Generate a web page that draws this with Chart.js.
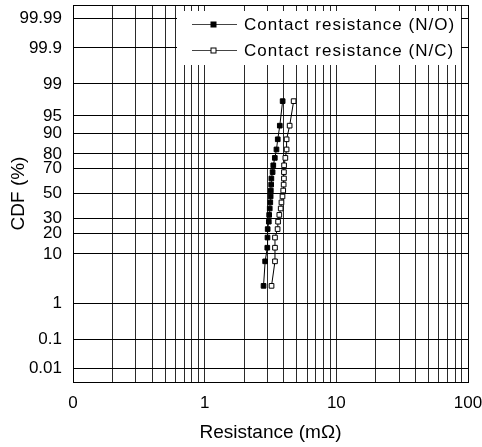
<!DOCTYPE html>
<html>
<head>
<meta charset="utf-8">
<script src="https://cdn.jsdelivr.net/npm/chart.js@4.4.1/dist/chart.umd.min.js"></script>
<style>
  html, body { margin: 0; padding: 0; background: #fff; }
  #wrap { width: 482px; height: 447px; }
</style>
</head>
<body>
<div id="wrap"><canvas id="chart" width="482" height="447"></canvas></div>
<script>
// plotting positions (CDF %) shared by both series, lowest first
const cdfPercent = [2.5, 7.5, 12.5, 17.5, 22.5, 27.5, 32.5, 37.5, 42.5, 47.5,
                    52.5, 57.5, 62.5, 67.5, 72.5, 77.5, 82.5, 87.5, 92.5, 97.5];
// resistance in mOhm
const resistanceNO = [2.80, 2.88, 2.99, 3.00, 3.01, 3.07, 3.09, 3.12, 3.15, 3.17,
                      3.18, 3.20, 3.21, 3.28, 3.32, 3.41, 3.51, 3.59, 3.72, 3.91];
const resistanceNC = [3.22, 3.42, 3.42, 3.42, 3.58, 3.61, 3.69, 3.78, 3.83, 3.90,
                      3.95, 3.98, 4.00, 4.00, 4.01, 4.10, 4.19, 4.19, 4.42, 4.74];
const seriesNames = ['Contact resistance (N/O)', 'Contact resistance (N/C)'];
const cdfTicks = [0.01, 0.1, 1, 10, 20, 30, 50, 70, 80, 90, 95, 99, 99.9, 99.99];
const xDecades = [0.1, 1, 10, 100];
const xTickLabels = ['0', '1', '10', '100'];

const FONT = '"Liberation Sans", Arial, sans-serif';

// inverse normal CDF (Acklam) - turns CDF into the probability-paper axis
function probit(p) {
    const a = [-3.969683028665376e+01, 2.209460984245205e+02, -2.759285104469687e+02, 1.383577518672690e+02, -3.066479806614716e+01, 2.506628277459239e+00];
    const b = [-5.447609879822406e+01, 1.615858368580409e+02, -1.556989798598866e+02, 6.680131188771972e+01, -1.328068155288572e+01];
    const c = [-7.784894002430293e-03, -3.223964580411365e-01, -2.400758277161838e+00, -2.549732539343734e+00, 4.374664141464968e+00, 2.938163982698783e+00];
    const d = [7.784695709041462e-03, 3.224671290700398e-01, 2.445134137142996e+00, 3.754408661907416e+00];
    const plow = 0.02425;
    let q, r;
    if (p < plow) {
        q = Math.sqrt(-2 * Math.log(p));
        return (((((c[0]*q+c[1])*q+c[2])*q+c[3])*q+c[4])*q+c[5]) / ((((d[0]*q+d[1])*q+d[2])*q+d[3])*q+1);
    }
    if (p > 1 - plow) {
        q = Math.sqrt(-2 * Math.log(1 - p));
        return -(((((c[0]*q+c[1])*q+c[2])*q+c[3])*q+c[4])*q+c[5]) / ((((d[0]*q+d[1])*q+d[2])*q+d[3])*q+1);
    }
    q = p - 0.5;
    r = q * q;
    return (((((a[0]*r+a[1])*r+a[2])*r+a[3])*r+a[4])*r+a[5])*q / (((((b[0]*r+b[1])*r+b[2])*r+b[3])*r+b[4])*r+1);
}

// 1..9 per decade for the vertical grid
const xGrid = [];
xDecades.forEach((dec, i) => {
    if (i === xDecades.length - 1) { xGrid.push(dec); return; }
    for (let k = 1; k <= 9; k++) xGrid.push(dec * k);
});

const toPoints = (xs) => xs.map((x, i) => ({ x: x, y: probit(cdfPercent[i] / 100) }));

// white legend panel + plot frame
const frameAndLegend = {
    id: 'frameAndLegend',
    afterDatasetsDraw(chart) {
        const ctx = chart.ctx;
        const a = chart.chartArea;
        ctx.save();
        const bx = a.left + 104;
        const by = a.top + 6;
        ctx.fillStyle = '#fff';
        ctx.fillRect(bx, by, a.right - 7 - bx, 54);

        ctx.font = '17px ' + FONT;
        ctx.letterSpacing = '1px';
        ctx.textBaseline = 'middle';
        ctx.textAlign = 'left';
        chart.data.datasets.forEach((ds, i) => {
            const y = Math.round(a.top + 19 + i * 26) + 0.5;
            ctx.strokeStyle = '#444';
            ctx.lineWidth = 1;
            ctx.beginPath();
            ctx.moveTo(a.left + 119, y);
            ctx.lineTo(a.left + 164, y);
            ctx.stroke();
            ctx.fillStyle = ds.pointBackgroundColor;
            ctx.strokeStyle = '#000';
            ctx.fillRect(a.left + 138, y - 2.5, 5, 5);
            ctx.strokeRect(a.left + 138, y - 2.5, 5, 5);
            ctx.fillStyle = '#000';
            ctx.fillText(ds.label, a.left + 171, y + 1);
        });

        ctx.letterSpacing = '0px';
        ctx.strokeStyle = '#000';
        ctx.lineWidth = 1;
        ctx.strokeRect(Math.round(a.left) + 0.5, Math.round(a.top) + 0.5,
                       Math.round(a.right - a.left), Math.round(a.bottom - a.top));
        ctx.restore();
    }
};

const baseSet = {
    showLine: true,
    borderColor: '#000',
    borderWidth: 1,
    pointStyle: 'rect',
    pointRadius: 3.3,
    pointBorderColor: '#000',
    pointBorderWidth: 1
};

new Chart(document.getElementById('chart'), {
    type: 'scatter',
    data: {
        datasets: [
            Object.assign({}, baseSet, { label: seriesNames[0], data: toPoints(resistanceNO), pointBackgroundColor: '#000' }),
            Object.assign({}, baseSet, { label: seriesNames[1], data: toPoints(resistanceNC), pointBackgroundColor: '#fff' })
        ]
    },
    options: {
        responsive: false,
        animation: false,
        layout: { padding: { top: 5, right: 14, left: 0, bottom: 0 } },
        plugins: {
            legend: { display: false },
            tooltip: { enabled: false }
        },
        scales: {
            x: {
                type: 'logarithmic',
                min: 0.1,
                max: 100,
                afterBuildTicks: (s) => { s.ticks = xGrid.map(v => ({ value: v })); },
                afterFit: (s) => { s.height = 65; s.paddingLeft = 0; s.paddingRight = 0; },
                ticks: {
                    autoSkip: false,
                    maxRotation: 0,
                    padding: 11,
                    color: '#000',
                    font: { family: FONT, size: 17 },
                    callback: (v) => {
                        const k = xDecades.findIndex(d => Math.abs(d - v) < 1e-9);
                        return k >= 0 ? xTickLabels[k] : '';
                    }
                },
                grid: { color: '#2a2a2a', lineWidth: 1, drawTicks: false },
                border: { color: '#000' },
                title: {
                    display: true,
                    text: 'Resistance (mΩ)',
                    color: '#000',
                    font: { family: FONT, size: 19 },
                    padding: { top: 0, bottom: 3 }
                }
            },
            y: {
                type: 'linear',
                min: -4,
                max: 4,
                afterBuildTicks: (s) => { s.ticks = cdfTicks.map(p => ({ value: probit(p / 100) })); },
                afterFit: (s) => { s.width = 73; s.paddingTop = 0; s.paddingBottom = 0; },
                ticks: {
                    autoSkip: false,
                    padding: 11,
                    color: '#000',
                    font: { family: FONT, size: 17 },
                    callback: (v, i) => String(cdfTicks[i])
                },
                grid: { color: '#000', lineWidth: 1, drawTicks: false },
                border: { color: '#000' },
                title: {
                    display: true,
                    text: 'CDF (%)',
                    color: '#000',
                    font: { family: FONT, size: 19 },
                    padding: { top: 7, bottom: 0 }
                }
            }
        }
    },
    plugins: [frameAndLegend]
});
</script>
</body>
</html>
